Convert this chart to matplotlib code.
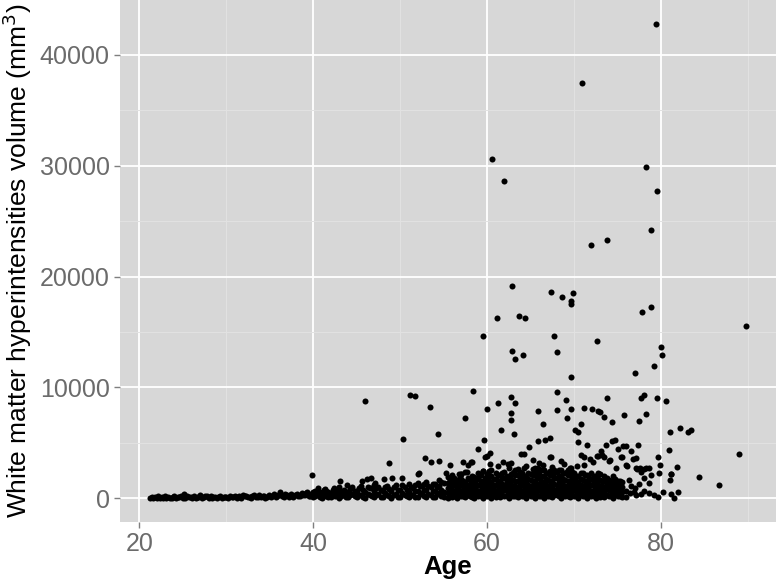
import numpy as np
import matplotlib
matplotlib.use("Agg")
import matplotlib.pyplot as plt
from matplotlib.ticker import MultipleLocator

plt.rcParams['font.family'] = ['Liberation Sans', 'DejaVu Sans']

# young subjects, almost no lesion load
young_age = [21.2, 21.6, 22.0, 22.4, 22.7, 23.1, 23.5, 23.9, 24.2, 24.6, 25.0, 25.1, 25.3, 25.7,
             26.1, 26.5, 26.8, 27.0, 27.2, 27.6, 28.0, 28.3, 28.7, 29.1, 29.5, 29.8, 30.2, 30.6,
             31.0, 31.3, 31.7, 32.1, 32.5, 32.8, 33.2, 33.6, 34.0, 34.3, 34.7, 35.1, 35.5, 35.8,
             36.2, 36.6, 37.0, 37.3, 37.7, 38.1, 38.5, 38.8, 39.2, 39.3, 39.6]
young_wmh = [10, 40, 20, 60, 30, 80, 50, 120, 40, 90, 60, 390, 30, 150,
             70, 40, 110, 300, 60, 200, 80, 50, 130, 90, 60, 140, 70, 100,
             180, 90, 60, 250, 110, 80, 300, 150, 90, 220, 130, 170, 400, 190,
             550, 140, 320, 200, 160, 380, 240, 290, 450, 600, 260]
young2_age = [21.4, 21.8, 22.2, 22.6, 23.0, 23.3, 23.7, 24.0, 24.4, 24.8, 25.5, 25.9, 26.3, 26.7,
              27.4, 27.8, 28.2, 28.5, 28.9, 29.3, 29.7, 30.0, 30.4, 30.8, 31.2, 31.5, 31.9, 32.3,
              32.7, 33.0, 33.4, 33.8, 34.2, 34.5, 34.9, 35.3, 35.7, 36.0, 36.4, 36.8, 37.2, 37.5,
              37.9, 38.3, 38.7, 39.0, 39.5, 39.8]
young2_wmh = [150, 90, 180, 110, 200, 140, 60, 220, 130, 180, 240, 120, 210, 160,
              90, 180, 250, 140, 60, 230, 170, 110, 260, 150, 80, 200, 300, 180,
              120, 240, 110, 280, 190, 60, 310, 230, 120, 330, 220, 380, 150, 420,
              300, 200, 500, 340, 180, 420]

# middle age band
mid_age = [40.0, 40.0, 40.5, 40.5, 41.0, 41.0, 41.3, 41.5, 41.5, 42.0, 42.0, 42.4, 42.5, 42.5,
           43.0, 43.0, 43.0, 43.5, 43.5, 44.0, 44.0, 44.5, 44.5, 45.0, 45.0, 45.5, 45.5,
           46.0, 46.0, 46.5, 46.5, 47.0, 47.0, 47.0, 47.5, 47.5, 48.0, 48.0, 48.5, 48.5,
           49.0, 49.0, 49.5, 49.5, 50.0, 50.0, 50.5, 50.5, 51.0, 51.0, 51.0, 51.5, 51.5,
           52.0, 52.0, 52.0, 52.5, 52.5, 53.0, 53.0, 53.0, 53.5, 53.5, 54.0, 54.0, 54.0,
           54.5, 54.5, 54.5, 55.0, 55.0, 55.0]
mid_wmh = [100, 600, 300, 900, 50, 500, 840, 200, 700, 100, 400, 930, 250, 650,
           50, 500, 1000, 300, 800, 150, 600, 400, 1000, 100, 700, 300, 1100,
           50, 600, 350, 900, 150, 700, 1200, 400, 1000, 100, 650, 300, 1100,
           50, 700, 400, 1200, 150, 800, 300, 1000, 100, 600, 1300, 350, 900,
           150, 700, 1400, 400, 1100, 100, 800, 1500, 300, 1000, 150, 700, 1300,
           400, 1100, 1700, 100, 600, 1400]
mid2_age = [40.25, 40.75, 41.25, 41.75, 42.25, 42.75, 43.25, 43.75, 44.25, 44.75, 45.25, 45.75,
            46.25, 46.75, 47.25, 47.75, 48.25, 48.75, 49.25, 49.75, 50.25, 50.75, 51.25, 51.75,
            52.25, 52.75, 53.25, 53.75, 54.25, 54.75]
mid2_wmh = [[250, 700], [150, 550], [350, 800], [100, 600], [300, 750], [200, 800],
            [250, 700], [100, 550], [350, 850], [200, 700], [300, 900], [150, 800],
            [400, 1000], [250, 950], [350, 900], [150, 800], [450, 1000], [200, 850],
            [350, 1000], [100, 750], [450, 1200], [250, 750], [350, 1000], [150, 700, 1200],
            [450, 1100], [200, 800, 1300], [400, 1100], [150, 650, 1300], [450, 1000],
            [200, 800, 1500]]

# older adults, dense cloud near the bottom
old_age = [55.5, 56.0, 56.5, 57.0, 57.5, 58.0, 58.5, 59.0, 59.5, 60.0, 60.5, 61.0, 61.5, 62.0,
           62.5, 63.0, 63.5, 64.0, 64.5, 65.0, 65.5, 66.0, 66.5, 67.0, 67.5, 68.0, 68.5, 69.0,
           69.5, 70.0, 70.5, 71.0, 71.5, 72.0, 72.5, 73.0, 73.5, 74.0, 74.5, 75.0, 75.5]
old_wmh = [[60, 450, 900, 1350, 1900], [150, 600, 1100, 1600, 2100], [40, 500, 950, 1500],
           [200, 700, 1200, 1750, 2160], [90, 550, 1000, 1450, 2400], [250, 650, 1150, 1700],
           [30, 480, 950, 1400, 1900], [180, 700, 1250, 1800, 2300], [70, 520, 1000, 1500, 2500],
           [220, 650, 1150, 1650, 2200], [50, 500, 950, 1450, 2000, 2600],
           [170, 700, 1200, 1750, 2300], [90, 550, 1050, 1550, 2100],
           [260, 750, 1250, 1800, 2400], [40, 480, 950, 1400, 1950, 2700],
           [190, 650, 1150, 1700, 2250], [100, 550, 1050, 1600, 2150, 2650],
           [240, 700, 1200, 1750, 2300], [60, 500, 1000, 1500, 2050, 2900],
           [210, 680, 1150, 1650, 2200], [80, 560, 1050, 1600, 2150, 2700],
           [230, 720, 1250, 1800, 2350], [50, 520, 1000, 1500, 2000, 2600],
           [180, 640, 1150, 1700, 2250], [90, 580, 1050, 1550, 2100, 2800],
           [270, 740, 1250, 1800, 2350], [40, 500, 980, 1450, 2000, 2550],
           [200, 660, 1150, 1700, 2250], [110, 590, 1080, 1600, 2150, 2700],
           [250, 720, 1200, 1750, 2300], [60, 530, 1000, 1500, 2050],
           [190, 650, 1150, 1700, 2250], [80, 560, 1050, 1550, 2100],
           [230, 700, 1200, 1750, 2300], [50, 500, 980, 1450, 2000],
           [170, 640, 1100, 1650, 2200], [100, 570, 1050, 1550, 2050],
           [260, 720, 1200, 1700], [40, 510, 980, 1450, 2000], [180, 650, 1100, 1600],
           [90, 560, 1050, 1500]]
old2_age = [55.75, 56.25, 56.75, 57.25, 57.75, 58.25, 58.75, 59.25, 59.75, 60.25, 60.75, 61.25,
            61.75, 62.25, 62.75, 63.25, 63.75, 64.25, 64.75, 65.25, 65.75, 66.25, 66.75, 67.25,
            67.75, 68.25, 68.75, 69.25, 69.75, 70.25, 70.75, 71.25, 71.75, 72.25, 72.75, 73.25,
            73.75, 74.25, 74.75, 75.25]
old2_wmh = [[300, 750, 1200, 1650], [250, 700, 1250, 1800], [350, 800, 1300, 1750, 2200],
            [200, 650, 1100, 1550], [300, 800, 1250, 1800], [150, 600, 1050, 1500, 2050],
            [320, 780, 1200, 1650], [250, 700, 1150, 1600, 2100], [350, 820, 1300, 1800],
            [200, 650, 1100, 1550, 2000, 2500], [300, 780, 1250, 1750],
            [250, 700, 1150, 1600, 2150], [350, 830, 1300, 1800, 2300],
            [180, 650, 1100, 1550, 2050], [300, 750, 1250, 1750, 2200],
            [250, 700, 1150, 1600, 2100, 2600], [350, 800, 1300, 1800, 2350],
            [200, 650, 1100, 1550, 2050], [300, 780, 1250, 1750, 2250],
            [250, 700, 1150, 1600, 2100, 2650], [350, 820, 1300, 1800, 2300],
            [180, 650, 1100, 1550, 2050, 2550], [300, 760, 1250, 1750, 2250],
            [250, 700, 1150, 1600, 2100, 2500], [350, 800, 1300, 1800, 2300],
            [200, 650, 1100, 1550, 2050, 2600], [300, 780, 1250, 1750, 2250],
            [250, 700, 1150, 1600, 2100, 2550], [350, 820, 1300, 1800, 2350],
            [180, 650, 1100, 1550, 2050], [300, 760, 1250, 1750, 2250],
            [250, 700, 1150, 1600, 2100], [350, 800, 1300, 1800],
            [200, 650, 1100, 1550, 2050], [300, 780, 1250, 1750, 2250],
            [250, 700, 1150, 1600], [350, 820, 1300, 1800], [180, 650, 1100, 1550],
            [300, 760, 1250, 1750], [250, 700, 1150, 1600]]

# oldest subjects, sparse near the bottom
late_age = [76.0, 76.0, 76.3, 76.4, 76.5, 76.9, 77.0, 77.1, 77.5, 77.7, 78.1, 78.6, 79.2,
            79.7, 80.2, 81.1, 81.5, 82.0, 77.1, 77.7, 78.3, 78.8, 78.1, 78.6, 79.8, 81.1]
late_wmh = [150, 700, 1700, 450, 1100, 600, 900, 300, 1300, 360, 660, 450, 300,
            150, 600, 360, 60, 540, 2700, 2400, 2700, 2100, 1800, 1350, 2250, 2220]

# scattered points above the cloud
mod_age = [39.9, 43.1, 43.9, 45.6, 46.2, 46.7, 47.1, 48.1, 49.1, 50.2, 48.7, 50.3, 52.8, 53.5,
           54.5, 55.7, 52.1, 52.2, 54.4, 46.0, 51.1, 51.7, 53.4, 55.3, 57.0, 57.7, 59.5, 60.3,
           57.2, 58.2, 58.3, 57.8, 58.9, 59.8, 60.0, 60.3, 63.9, 64.2, 64.8, 65.3, 66.4, 67.2,
           67.3, 68.5, 62.8, 59.6, 65.8, 66.7, 67.2, 70.5, 71.5, 74.4, 74.7, 73.7, 75.1, 75.6,
           76.0, 76.6, 77.3, 80.9, 89.0, 73.1, 72.7, 70.8, 71.2, 71.8, 72.6, 73.2, 73.4, 74.1,
           75.5, 76.1, 76.8, 77.2, 77.6, 78.1, 78.6, 79.7, 79.9, 81.8, 81.1, 81.0, 84.4, 86.7,
           71.2, 74.0, 75.4, 74.8, 76.0, 77.1, 57.5,
           61.2, 62.4, 63.1, 64.2, 65.4, 65.8, 67.7, 69.2, 69.7, 61.8, 66.0, 68.9, 70.3, 72.2]
mod_wmh = [2100, 1590, 1230, 1590, 1740, 1860, 1350, 1740, 1830, 1800, 3180, 5350, 3630, 3270,
           3400, 3000, 2220, 2280, 5840, 8740, 9310, 9190, 8230, 2250, 2160, 2400, 2500, 3090,
           3300, 3270, 3240, 3000, 4500, 3720, 3850, 4140, 4050, 3990, 4620, 3450, 3000, 3690,
           3720, 3400, 3150, 5250, 5170, 5290, 5470, 5100, 4840, 5200, 5290, 4860, 4500, 4750,
           4750, 4320, 4860, 4410, 4030, 4300, 3850, 3960, 3760, 3540, 3850, 3900, 3690, 3480,
           3720, 2950, 3510, 2640, 2700, 2680, 2770, 3690, 3000, 2790, 2220, 1620, 1890, 1170,
           3000, 3360, 3760, 2770, 3000, 3600, 7210,
           2900, 3100, 2400, 2700, 2400, 2700, 2550, 2400, 2700, 3300, 3200, 3100, 2950, 3250]

high_age = [58.4, 68.0, 62.7, 63.2, 61.3, 60.0, 69.1, 73.8, 77.7, 78.1, 79.5, 80.6, 65.9, 68.0,
            69.7, 71.2, 72.1, 72.8, 73.0, 62.8, 78.3, 69.2, 73.5, 75.7, 77.5, 62.7, 74.4, 66.4,
            70.8, 61.6, 63.1, 70.1, 70.4, 82.2, 83.1, 83.4, 81.0,
            79.4, 70.9, 60.6, 62.0, 78.3, 79.5, 78.8, 72.0, 73.8, 62.9, 67.4, 68.6, 69.9, 69.6,
            69.6, 61.1, 63.7, 64.4, 77.8, 78.8, 89.8, 59.5, 67.7, 72.6, 80.0, 80.1, 62.9, 64.1,
            63.2, 68.0, 79.2, 77.0, 69.6]
high_wmh = [9640, 9580, 9130, 8620, 8560, 8050, 8890, 9040, 9070, 9340, 9040, 8740, 7870, 7960,
            8020, 8140, 8080, 7870, 7770, 7660, 7600, 7210, 7360, 7540, 7000, 7030, 6910, 6700,
            6730, 6150, 5790, 6130, 6010, 6340, 5950, 6190, 5950,
            42790, 37480, 30570, 28650, 29910, 27690, 24170, 22820, 23330, 19130, 18620, 18200,
            18500, 17810, 17540, 16280, 16400, 16220, 16850, 17240, 15500, 14680, 14600, 14230,
            13630, 12970, 13300, 12910, 12550, 13180, 11980, 11350, 10930]


def flatten(ages, cols):
    xs, ys = [], []
    for a, vals in zip(ages, cols):
        for v in vals:
            xs.append(a)
            ys.append(v)
    return xs, ys


mid2_x, mid2_y = flatten(mid2_age, mid2_wmh)
old_x, old_y = flatten(old_age, old_wmh)
old2_x, old2_y = flatten(old2_age, old2_wmh)

age = np.concatenate([young_age, young2_age, mid_age, mid2_x, old_x, old2_x,
                      late_age, mod_age, high_age])
wmh = np.concatenate([young_wmh, young2_wmh, mid_wmh, mid2_y, old_y, old2_y,
                      late_wmh, mod_wmh, high_wmh])

fig = plt.figure(figsize=(7.77, 5.82), dpi=100)
ax = fig.add_axes([0.1544, 0.103, 0.8443, 0.897])
ax.set_facecolor('#d7d7d7')

ax.scatter(age, wmh, s=19, c='black', linewidths=0, zorder=3)

# ggplot style 5% expansion
xr = age.max() - age.min()
yr = wmh.max() - wmh.min()
ax.set_xlim(age.min() - 0.05 * xr, age.max() + 0.05 * xr)
ax.set_ylim(wmh.min() - 0.05 * yr, wmh.max() + 0.05 * yr)

ax.xaxis.set_major_locator(MultipleLocator(20))
ax.xaxis.set_minor_locator(MultipleLocator(10))
ax.yaxis.set_major_locator(MultipleLocator(10000))
ax.yaxis.set_minor_locator(MultipleLocator(5000))
ax.grid(which='major', color='white', linewidth=1.3, zorder=1)
ax.grid(which='minor', color='#e2e2e2', linewidth=0.7, zorder=1)
ax.set_axisbelow(True)
for s in ax.spines.values():
    s.set_visible(False)

ax.tick_params(which='major', length=4.5, width=1, color='#7f7f7f', labelcolor='#6b6b6b',
               labelsize=18, pad=3)
ax.tick_params(which='minor', length=0)

ax.set_xlabel('Age', fontsize=18.5, fontweight='bold', labelpad=-1)
ax.set_ylabel('White matter hyperintensities volume (mm$^3$)', fontsize=19, labelpad=4)

fig.savefig('out.png', dpi=100)
